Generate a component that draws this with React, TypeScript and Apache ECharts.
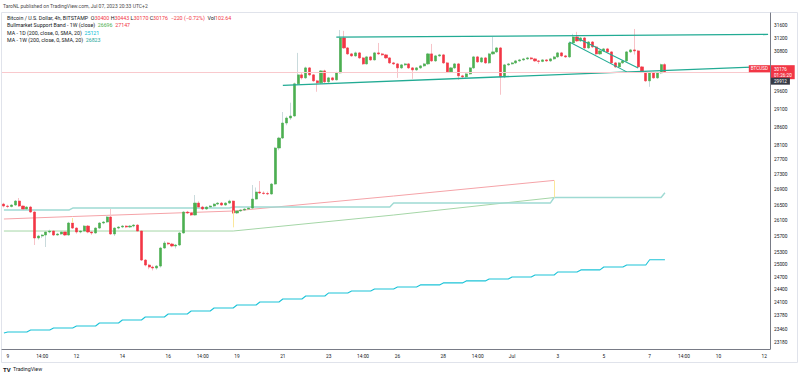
import React, { useEffect, useRef } from "react";
import * as echarts from "echarts";

// [open, close, low, high] for each 4h bar
const candles: number[][] = [
  [26527, 26476, 26440, 26560], [26476, 26463, 26420, 26510], [26463, 26502, 26440, 26520], [26502, 26605, 26480, 26630],
  [26605, 26476, 26450, 26684], [26476, 26399, 26370, 26490], [26399, 26450, 26380, 26470], [26450, 26321, 26300, 26480],
  [26321, 25661, 25486, 26340], [25661, 25711, 25620, 25740], [25711, 25736, 25660, 25760], [25736, 25812, 25436, 25830],
  [25812, 25837, 25780, 25870], [25837, 25736, 25710, 25860], [25736, 25762, 25720, 25790], [25762, 25812, 25740, 25830],
  [25812, 25736, 25710, 25830], [25736, 26040, 25720, 26070], [26040, 25912, 25890, 26070], [25912, 25812, 25770, 25930],
  [25812, 25837, 25780, 25860], [25837, 25963, 25810, 25990], [25963, 25812, 25780, 25990], [25812, 25787, 25740, 25830],
  [25787, 25912, 25770, 25930], [25912, 26040, 25890, 26060], [26040, 26065, 26010, 26090], [26065, 26193, 26040, 26230],
  [26193, 25762, 25740, 26399], [25762, 25912, 25711, 25930], [25912, 25938, 25880, 25960], [25938, 25963, 25910, 25990],
  [25963, 25938, 25910, 25985], [25938, 25963, 25915, 25990], [25963, 25988, 25930, 26010], [25988, 25837, 25815, 26010],
  [25837, 25114, 25090, 25850], [25114, 24992, 24960, 25140], [24992, 24943, 24890, 25020], [24943, 24919, 24860, 24980],
  [24919, 24967, 24880, 24990], [24967, 25411, 24930, 25440], [25411, 25535, 25390, 25585], [25535, 25511, 25480, 25560],
  [25511, 25461, 25430, 25540], [25461, 25486, 25400, 25510], [25486, 25787, 25460, 25810], [25787, 26321, 25770, 26340],
  [26321, 26296, 26270, 26350], [26296, 26244, 26219, 26320], [26244, 26553, 26230, 26762], [26553, 26450, 26430, 26600],
  [26450, 26399, 26370, 26480], [26399, 26450, 26380, 26470], [26450, 26476, 26430, 26500], [26476, 26527, 26450, 26545],
  [26527, 26553, 26500, 26575], [26553, 26502, 26480, 26580], [26502, 26553, 26480, 26575], [26553, 26605, 26530, 26640],
  [26605, 26296, 26270, 26620], [26296, 26347, 26270, 26365], [26347, 26372, 26330, 26390], [26372, 26399, 26350, 26415],
  [26399, 26424, 26380, 26440], [26424, 26657, 26400, 27025], [26657, 26841, 26640, 26960], [26841, 26815, 26790, 27131],
  [26815, 26802, 26770, 26860], [26802, 26789, 26760, 26850], [26789, 27051, 26770, 27080], [27051, 28020, 27030, 28050],
  [28020, 28295, 27960, 28330], [28295, 28713, 28270, 29024], [28713, 28854, 28650, 28900], [28854, 28911, 28800, 29290],
  [28911, 29835, 28890, 29870], [29835, 30097, 29800, 30750], [30097, 30009, 29960, 30180], [30009, 30303, 29980, 30340],
  [30303, 30097, 30060, 30330], [30097, 29922, 29890, 30120], [29922, 29864, 29604, 29950], [29864, 30214, 29830, 30240],
  [30214, 29893, 29860, 30250], [29893, 30009, 29860, 30040], [30009, 29951, 29920, 30040], [29951, 30156, 29930, 30190],
  [30156, 31203, 30130, 31447], [31203, 30900, 30870, 31420], [30900, 30720, 30690, 30930], [30720, 30660, 30630, 30750],
  [30660, 30750, 30630, 30790], [30750, 30600, 30570, 30780], [30600, 30421, 30390, 30630], [30421, 30630, 30400, 30660],
  [30630, 30540, 30510, 30660], [30540, 30750, 30520, 30780], [30750, 30720, 30690, 31051], [30720, 30690, 30660, 30750],
  [30690, 30600, 30570, 30720], [30600, 30451, 30420, 30620], [30451, 30421, 30390, 30480], [30421, 30303, 30009, 30450],
  [30303, 30392, 30270, 30420], [30392, 30421, 30360, 30450], [30421, 30303, 30270, 30450], [30303, 30244, 29980, 30330],
  [30244, 30303, 30210, 30330], [30303, 30362, 30270, 30390], [30362, 30421, 30330, 30450], [30421, 30720, 30390, 30750],
  [30720, 30510, 30480, 31021], [30510, 30660, 30480, 30690], [30660, 30690, 30630, 30720], [30690, 30451, 30420, 30720],
  [30451, 30185, 30150, 30480], [30185, 30303, 30150, 30330], [30303, 30421, 30270, 30450], [30421, 30068, 29951, 30450],
  [30068, 30038, 30000, 30100], [30038, 30126, 30000, 30160], [30126, 30303, 30100, 30330], [30303, 30630, 30270, 30660],
  [30630, 30481, 30450, 30660], [30481, 30600, 30450, 30630], [30600, 30451, 30420, 30630], [30451, 30720, 30420, 30750],
  [30720, 30780, 30690, 31233], [30780, 30900, 30750, 30930], [30900, 30038, 29518, 30930], [30038, 30392, 30000, 30420],
  [30392, 30421, 30360, 30450], [30421, 30451, 30400, 30480], [30451, 30510, 30420, 30540], [30510, 30540, 30480, 30570],
  [30540, 30570, 30510, 30600], [30570, 30600, 30540, 30630], [30600, 30570, 30540, 30630], [30570, 30510, 30480, 30600],
  [30510, 30495, 30420, 30540], [30495, 30540, 30470, 30560], [30540, 30510, 30480, 30560], [30510, 30570, 30480, 30600],
  [30570, 30630, 30540, 30660], [30630, 30750, 30600, 30780], [30750, 30660, 30630, 30780], [30660, 30630, 30600, 30690],
  [30630, 31051, 30600, 31080], [31051, 31233, 31020, 31330], [31233, 31112, 31080, 31390], [31112, 31203, 31080, 31230],
  [31203, 30900, 30870, 31230], [30900, 31081, 30870, 31110], [31081, 30930, 30900, 31110], [30930, 30720, 30690, 30960],
  [30720, 30810, 30690, 30840], [30810, 30870, 30780, 30900], [30870, 30780, 30750, 30900], [30780, 30451, 30420, 30800],
  [30451, 30332, 30300, 30480], [30332, 30451, 30300, 30480], [30451, 30510, 30420, 30540], [30510, 30780, 30480, 30810],
  [30780, 30840, 30750, 30870], [30840, 30810, 30700, 31478], [30810, 30332, 30300, 30840], [30332, 30185, 30150, 30360],
  [30185, 29922, 29890, 30210], [29922, 30156, 29748, 30190], [30156, 30009, 29980, 30190], [30009, 30156, 29980, 30190],
  [30156, 30400, 30120, 30430], [30400, 30176, 30170, 30443],
];

const totalSlots = 201;

const xTickLabels: [number, string][] = [
  [1, "9"], [10, "14:00"], [19, "12"], [31, "14"], [43, "16"], [52, "14:00"], [61, "19"], [73, "21"],
  [85, "23"], [94, "14:00"], [103, "26"], [115, "28"], [124, "14:00"], [133, "Jul"], [145, "3"],
  [157, "5"], [169, "7"], [178, "14:00"], [187, "10"], [199, "12"],
];

const yTickLabels = [
  31600, 31200, 30800, 29600, 29100, 28600, 28100, 27700, 27300, 26900, 26500,
  26100, 25700, 25300, 25000, 24700, 24400, 24100, 23780, 23460, 23180,
];
const yMin = 23023;
const yMax = 31973;

// MA 1D (200) daily values: [first bar index of day, value]
const ma1dSteps: [number, number][] = [
  [0, 23386], [1, 23409], [7, 23455], [13, 23501], [19, 23547], [25, 23616], [31, 23685], [37, 23754],
  [43, 23824], [49, 23894], [55, 23964], [61, 24035], [67, 24106], [73, 24177], [79, 24248], [85, 24320],
  [91, 24367], [97, 24415], [103, 24463], [109, 24511], [115, 24559], [121, 24607], [127, 24655], [133, 24703],
  [139, 24751], [145, 24824], [151, 24873], [157, 24945], [163, 24994], [169, 25121],
];
// MA 1W (200) weekly values
const ma1wSteps: [number, number][] = [
  [0, 26372], [18, 26424], [60, 26450], [102, 26553], [144, 26697], [173, 26823],
];
// Bullmarket support band
const bandRed: [number, number][] = [[0, 26142], [18, 26206], [60, 26347], [102, 26736], [144, 27147]];
const bandGreen: [number, number][] = [[0, 25837], [60, 25837], [102, 26244], [144, 26696]];
const bandJoins: [number, number, number][] = [[18, 26168, 26040], [60, 26360, 25930], [144, 27147, 26696]];

// drawn trend lines
const channelTop: [number, number][] = [[87, 31225], [200, 31310]];
const channelBottom: [number, number][] = [[73, 29790], [200, 30345]];
const descUpper: [number, number][] = [[150, 31203], [166, 30303]];
const descLower: [number, number][] = [[148, 31081], [163, 30185]];

const lastPrice = 30176;
const countdown = "01:26:20";
const otherPrice = 29912;

const L = Math.log;
const FONT = "Roboto, 'Noto Sans', sans-serif";
const CLEAR = "rgba(0,0,0,0)";

function stepPoints(steps: [number, number][], lastIdx: number) {
  const pts: number[][] = [];
  steps.forEach(([s, v], k) => {
    const end = k < steps.length - 1 ? steps[k + 1][0] - 1 : lastIdx;
    pts.push([s, L(v)]);
    if (end > s) pts.push([end, L(v)]);
  });
  return pts;
}
const toPts = (arr: [number, number][]) => arr.map(([i, v]) => [i, L(v)]);

export default function App() {
  const ref = useRef<HTMLDivElement>(null);
  useEffect(() => {
    if (!ref.current) return;
    const chart = echarts.init(ref.current, null, { renderer: "svg" });
    const labelMap = new Map<number, string>(xTickLabels);
    const cats = Array.from({ length: totalSlots }, (_, i) => String(i));
    const lastIdx = candles.length - 1;

    const wickData = candles.map(([o, c, l, h]) => [L(o), L(c), L(l), L(h)]);
    const bodyData = candles.map(([o, c]) => [L(o), L(c), L(Math.min(o, c)), L(Math.max(o, c))]);

    const lineBase = { type: "line", symbol: "none", silent: true, z: 2 } as any;

    const option: any = {
      animation: false,
      backgroundColor: "#ffffff",
      grid: { left: 2, right: 30, top: 13, bottom: 29 },
      xAxis: {
        type: "category",
        data: cats,
        boundaryGap: true,
        axisLine: { show: true, lineStyle: { color: "#787b86", width: 1 } },
        axisTick: { show: false },
        splitLine: { show: false },
        axisLabel: {
          interval: (idx: number) => labelMap.has(idx),
          formatter: (_v: string, idx: number) => labelMap.get(idx) ?? "",
          fontSize: 4.8,
          color: "#131722",
          fontFamily: FONT,
          margin: 5,
        },
      },
      yAxis: {
        type: "value",
        position: "right",
        min: L(yMin),
        max: L(yMax),
        axisLine: { show: true, lineStyle: { color: "#787b86", width: 1 } },
        axisTick: { show: false },
        splitLine: { show: false },
        axisLabel: {
          customValues: yTickLabels.map((v) => L(v)),
          formatter: (v: number) => String(Math.round(Math.exp(v))),
          fontSize: 4.8,
          color: "#131722",
          fontFamily: FONT,
          margin: 4,
        },
      },
      series: [
        { ...lineBase, name: "band green", data: toPts(bandGreen), lineStyle: { color: "#a5d6a7", width: 1 } },
        {
          ...lineBase,
          name: "band red",
          data: toPts(bandRed),
          lineStyle: { color: "#f5a3a8", width: 1 },
          markLine: {
            silent: true,
            symbol: ["none", "none"],
            label: { show: false },
            lineStyle: { color: "#fbe79b", width: 1, type: "solid" },
            data: bandJoins.map(([i, a, b]) => [{ coord: [i, L(a)] }, { coord: [i, L(b)] }]),
          },
        },
        { ...lineBase, name: "MA 1W", data: stepPoints(ma1wSteps, lastIdx), lineStyle: { color: "#9fdad3", width: 1.4 } },
        { ...lineBase, name: "MA 1D", data: stepPoints(ma1dSteps, lastIdx), lineStyle: { color: "#1cc3d8", width: 1.1 } },
        {
          type: "candlestick",
          name: "wicks",
          silent: true,
          z: 3,
          barWidth: 1,
          data: wickData,
          itemStyle: { color: "#c9dadc", color0: "#f7c3c8", borderColor: "#c9dadc", borderColor0: "#f7c3c8", borderWidth: 1 },
        },
        {
          type: "candlestick",
          name: "bodies",
          silent: true,
          z: 4,
          barWidth: 2.6,
          data: bodyData,
          itemStyle: { color: "#4caf50", color0: "#f23645", borderColor: "#4caf50", borderColor0: "#f23645", borderWidth: 0.6 },
          markLine: {
            silent: true,
            symbol: ["none", "none"],
            precision: 10,
            z: 20,
            data: [
              {
                yAxis: L(lastPrice),
                lineStyle: { color: "#f9c9cd", width: 1, type: "solid" },
                label: {
                  show: true,
                  position: "end",
                  distance: 1,
                  formatter: `${lastPrice}\n${countdown}`,
                  backgroundColor: "#f23645",
                  color: "#ffffff",
                  fontSize: 4.6,
                  lineHeight: 6,
                  fontFamily: FONT,
                  padding: [1, 3, 1, 3],
                },
              },
              {
                yAxis: L(otherPrice),
                lineStyle: { color: CLEAR, width: 1, type: "solid" },
                label: {
                  show: true,
                  position: "end",
                  distance: 1,
                  formatter: `${otherPrice}`,
                  backgroundColor: "#363a45",
                  color: "#ffffff",
                  fontSize: 4.6,
                  fontFamily: FONT,
                  padding: [1, 3, 1, 3],
                },
              },
              {
                yAxis: L(lastPrice) + 0.00001,
                lineStyle: { color: CLEAR, width: 1, type: "solid" },
                label: {
                  show: true,
                  position: "insideEndTop",
                  distance: 0,
                  formatter: "BTCUSD",
                  backgroundColor: "#f23645",
                  color: "#ffffff",
                  fontSize: 4.6,
                  fontFamily: FONT,
                  padding: [1, 2, 1, 2],
                },
              },
            ],
          },
        },
        { ...lineBase, z: 5, name: "channel top", data: toPts(channelTop), lineStyle: { color: "#22ab94", width: 1.3 } },
        { ...lineBase, z: 5, name: "channel bottom", data: toPts(channelBottom), lineStyle: { color: "#22ab94", width: 1.3 } },
        { ...lineBase, z: 5, name: "desc upper", data: toPts(descUpper), lineStyle: { color: "#22ab94", width: 1.1 } },
        { ...lineBase, z: 5, name: "desc lower", data: toPts(descLower), lineStyle: { color: "#22ab94", width: 1.1 } },
      ],
      graphic: [
        { type: "rect", silent: true, z: 0, shape: { x: 1.5, y: 12.5, width: 796, height: 350 }, style: { fill: "none", stroke: "#e0e3eb", lineWidth: 1 } },
        { type: "text", left: 3, top: 3, style: { text: "TaroNL published on TradingView.com, Jul 07, 2023 20:33 UTC+2", fontSize: 5, fill: "#4a4a4a", fontFamily: FONT } },
        {
          type: "text", left: 7, top: 15, z: 10,
          style: {
            text: "{t|Bitcoin / U.S. Dollar, 4h, BITSTAMP  O}{r|30400}{t| H}{r|30443}{t| L}{r|30170}{t| C}{r|30176}{r|  −220 (−0.72%)}{t|  Vol}{r|102.64}",
            fontFamily: FONT,
            rich: { t: { fontSize: 5.3, fill: "#131722", fontFamily: FONT }, r: { fontSize: 5.3, fill: "#f23645", fontFamily: FONT } },
          },
        },
        {
          type: "text", left: 7, top: 22, z: 10,
          style: {
            text: "{t|Bullmarket Support Band - 1W (close)  }{g|26696}{r|  27147}",
            rich: { t: { fontSize: 5.3, fill: "#131722", fontFamily: FONT }, g: { fontSize: 5.3, fill: "#4caf50", fontFamily: FONT }, r: { fontSize: 5.3, fill: "#f23645", fontFamily: FONT } },
          },
        },
        {
          type: "text", left: 7, top: 30, z: 10,
          style: {
            text: "{t|MA - 1D (200, close, 0, SMA, 20)  }{c|25121}",
            rich: { t: { fontSize: 5.3, fill: "#131722", fontFamily: FONT }, c: { fontSize: 5.3, fill: "#00bcd4", fontFamily: FONT } },
          },
        },
        {
          type: "text", left: 7, top: 37, z: 10,
          style: {
            text: "{t|MA - 1W (200, close, 0, SMA, 20)  }{c|26823}",
            rich: { t: { fontSize: 5.3, fill: "#131722", fontFamily: FONT }, c: { fontSize: 5.3, fill: "#26a69a", fontFamily: FONT } },
          },
        },
        { type: "text", left: 3, top: 366, style: { text: "TV", fontSize: 6, fontWeight: "bold", fill: "#131722", fontFamily: FONT } },
        { type: "text", left: 13, top: 366.5, style: { text: "TradingView", fontSize: 5.3, fill: "#131722", fontFamily: FONT } },
      ],
    };
    chart.setOption(option);
    return () => chart.dispose();
  }, []);
  return (
    <div
      ref={ref}
      style={{ position: "fixed", left: 0, top: 0, width: 800, height: 378, background: "#ffffff" }}
    />
  );
}
